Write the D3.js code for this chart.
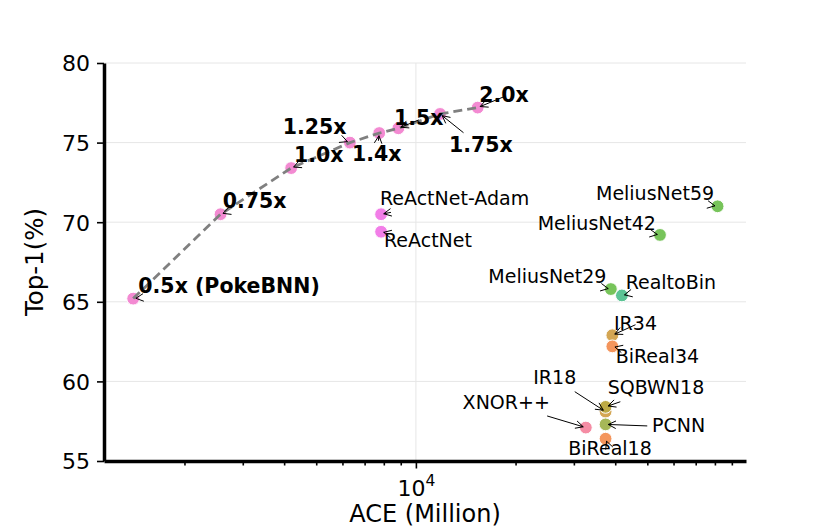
<!DOCTYPE html>
<html>
<head>
<meta charset="utf-8">
<script src="https://cdn.jsdelivr.net/npm/d3@7/dist/d3.min.js"></script>
<style>
  body { margin: 0; background: #fff; }
  text { font-family: "DejaVu Sans", sans-serif; }
</style>
</head>
<body>
<div id="chart"></div>
<script>
const width = 830, height = 526;
const margin = {top: 63, right: 84, bottom: 65, left: 104};

// one entry per model
const names  = ["0.5x (PokeBNN)", "0.75x", "1.0x", "1.25x", "1.4x", "1.5x", "1.75x", "2.0x",
                "ReActNet-Adam", "ReActNet", "MeliusNet59", "MeliusNet42", "MeliusNet29", "RealtoBin",
                "IR34", "BiReal34", "IR18", "SQBWN18", "PCNN", "XNOR++", "BiReal18"];
const ace    = [1400, 2570, 4200, 6320, 7750, 8850, 11830, 15370,
                7850, 7850, 81500, 54600, 38800, 41900,
                39200, 39200, 37400, 37400, 37400, 32600, 37400];
const top1   = [65.2, 70.5, 73.4, 75.0, 75.6, 75.9, 76.8, 77.2,
                70.5, 69.4, 71.0, 69.2, 65.8, 65.4,
                62.9, 62.2, 58.1, 58.4, 57.3, 57.1, 56.4];
const family = ["PokeBNN", "PokeBNN", "PokeBNN", "PokeBNN", "PokeBNN", "PokeBNN", "PokeBNN", "PokeBNN",
                "ReActNet", "ReActNet", "MeliusNet", "MeliusNet", "MeliusNet", "RealtoBin",
                "IR", "BiReal", "IR", "SQBWN", "PCNN", "XNOR++", "BiReal"];
// annotation text anchor (left, baseline) in data units, like xytext
const textAce  = [1451, 2609, 4283, 3960, 6412, 8590, 12590, 15540,
                  7790, 8010, 34990, 23330, 16550, 43010,
                  39660, 40130, 22620, 37960, 51640, 13840, 28860];
const textTop1 = [65.55, 70.92, 73.78, 75.52, 73.84, 76.09, 74.41, 77.55,
                  71.06, 68.44, 71.38, 69.54, 66.21, 65.79,
                  63.25, 61.16, 59.86, 59.19, 56.82, 58.29, 55.36];

const families = ["PokeBNN", "ReActNet", "MeliusNet", "RealtoBin", "IR", "BiReal", "SQBWN", "PCNN", "XNOR++"];
const palette  = ["#f38ad2", "#f27ee8", "#77c45a", "#5cc495", "#d4a653", "#f4955c", "#bdaa45", "#a6b758", "#f58ca4"];

const yTicks = [55, 60, 65, 70, 75, 80];
const xMajor = [1e4];
const xMinor = [2e3, 3e3, 4e3, 5e3, 6e3, 7e3, 8e3, 9e3, 2e4, 3e4, 4e4, 5e4, 6e4, 7e4, 8e4, 9e4];

const data = names.map((n, i) => ({name: n, ace: ace[i], top1: top1[i], family: family[i],
                                   tx: textAce[i], ty: textTop1[i], bold: family[i] === "PokeBNN"}));

const x = d3.scaleLog()
    .domain([Math.pow(10, 3.058), Math.pow(10, 4.997)])
    .range([margin.left, width - margin.right]);
const y = d3.scaleLinear()
    .domain([55, 80])
    .range([height - margin.bottom, margin.top]);
const color = d3.scaleOrdinal(families, palette);

const svg = d3.select("#chart")
  .append("svg")
    .attr("width", width)
    .attr("height", height);

// grid
svg.append("g")
  .selectAll("line")
  .data(yTicks.slice(1))
  .join("line")
    .attr("x1", margin.left).attr("x2", width - margin.right)
    .attr("y1", d => y(d)).attr("y2", d => y(d))
    .attr("stroke", "#e6e6e6").attr("stroke-width", 1);
svg.append("g")
  .selectAll("line")
  .data(xMajor)
  .join("line")
    .attr("x1", d => x(d)).attr("x2", d => x(d))
    .attr("y1", margin.top).attr("y2", height - margin.bottom)
    .attr("stroke", "#e6e6e6").attr("stroke-width", 1);

// axes
const yAxis = svg.append("g")
    .attr("transform", `translate(${margin.left},0)`)
    .call(d3.axisLeft(y).tickValues(yTicks).tickSize(7).tickSizeOuter(0).tickPadding(7));
yAxis.selectAll("text").style("font-size", "22px").attr("fill", "#000").attr("dy", "0.36em");

const xMinorAxis = svg.append("g")
    .attr("transform", `translate(0,${height - margin.bottom})`)
    .call(d3.axisBottom(x).tickValues(xMinor).tickSize(4.5).tickSizeOuter(0).tickFormat(""));
xMinorAxis.select(".domain").remove();

const xAxis = svg.append("g")
    .attr("transform", `translate(0,${height - margin.bottom})`)
    .call(d3.axisBottom(x).tickValues(xMajor).tickSize(7.5).tickSizeOuter(0).tickFormat(""));

xAxis.selectAll(".tick").append("text")
    .attr("y", 35)
    .attr("fill", "#000")
    .attr("text-anchor", "middle")
    .style("font-size", "22px")
    .call(t => {
      t.append("tspan").text("10");
      t.append("tspan").attr("dy", -10).style("font-size", "15.5px").text("4");
    });

svg.selectAll(".tick line").attr("stroke", "#000").attr("stroke-width", 1.6);
svg.selectAll(".domain").attr("stroke", "#000").attr("stroke-width", 3.5);

// axis labels
svg.append("text")
    .attr("x", (margin.left + width - margin.right) / 2)
    .attr("y", 521.5)
    .attr("text-anchor", "middle")
    .style("font-size", "24px")
    .text("ACE (Million)");
svg.append("text")
    .attr("transform", `translate(43,${(margin.top + height - margin.bottom) / 2}) rotate(-90)`)
    .attr("text-anchor", "middle")
    .style("font-size", "24.5px")
    .text("Top-1(%)");

// points
svg.append("g")
  .selectAll("circle")
  .data(data)
  .join("circle")
    .attr("cx", d => x(d.ace))
    .attr("cy", d => y(d.top1))
    .attr("r", 6.4)
    .attr("fill", d => color(d.family))
    .attr("stroke", "#fff")
    .attr("stroke-width", 1);

// dashed PokeBNN line
const poke = data.filter(d => d.family === "PokeBNN");
svg.append("path")
    .datum(poke)
    .attr("fill", "none")
    .attr("stroke", "#808080")
    .attr("stroke-width", 2.8)
    .attr("stroke-dasharray", "9,5")
    .attr("d", d3.line().x(d => x(d.ace)).y(d => y(d.top1)));

// annotations: arrow from the text box to the point, matplotlib style
const labels = svg.append("g");
const arrows = svg.append("g");
data.forEach(d => {
  const fs = d.bold ? 20.5 : 19;
  const tx = x(d.tx), ty = y(d.ty);
  const t = labels.append("text")
      .attr("x", tx).attr("y", ty)
      .style("font-size", fs + "px")
      .style("font-weight", d.bold ? "bold" : "normal")
      .text(d.name);
  const w = t.node().getComputedTextLength();
  const pad = 2;
  const bx0 = tx - pad, bx1 = tx + w + pad, by0 = ty - 0.76 * fs - pad, by1 = ty + 0.24 * fs + pad;
  const cx = tx + w / 2, cy = ty - 0.26 * fs;
  const px = x(d.ace), py = y(d.top1);
  const dx = px - cx, dy = py - cy;
  const len = Math.hypot(dx, dy);
  const ux = dx / len, uy = dy / len;
  let s = 0;
  const inside = px > bx0 && px < bx1 && py > by0 && py < by1;
  if (!inside) {
    const sx = dx !== 0 ? Math.min(Math.abs((dx > 0 ? bx1 : bx0) - cx) / Math.abs(dx), 1) : 1;
    const sy = dy !== 0 ? Math.min(Math.abs((dy > 0 ? by1 : by0) - cy) / Math.abs(dy), 1) : 1;
    s = Math.min(sx, sy) * len + 2.7;
  }
  const e = len - 2.7;
  if (e - s < 1) s = e - 1;
  const x0 = cx + ux * s, y0 = cy + uy * s, x1 = cx + ux * e, y1 = cy + uy * e;
  const hl = 7.6, hw = 3.8;
  const g = arrows.append("g").attr("stroke", "#000").attr("stroke-width", 1).attr("fill", "none");
  g.append("line").attr("x1", x0).attr("y1", y0).attr("x2", x1).attr("y2", y1);
  g.append("path").attr("d",
    `M${x1 - ux * hl - uy * hw},${y1 - uy * hl + ux * hw}L${x1},${y1}L${x1 - ux * hl + uy * hw},${y1 - uy * hl - ux * hw}`);
});
</script>
</body>
</html>
